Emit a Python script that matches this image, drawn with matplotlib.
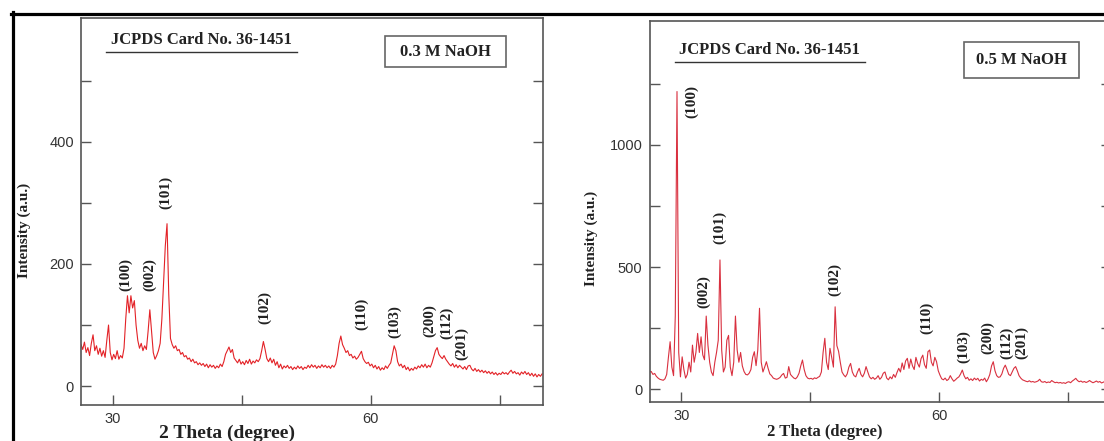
import numpy as np
import matplotlib
matplotlib.use("Agg")
import matplotlib.pyplot as plt
from matplotlib.lines import Line2D
from matplotlib.patches import Rectangle

theta_start = 26.3
theta_step = 0.2

int_03M = [
    68, 60, 72, 55, 63, 50, 70, 84, 58, 66, 52, 62, 49, 58, 47, 75, 100, 55, 43, 52,
    45, 58, 44, 50, 46, 62, 110, 148, 120, 148, 128, 140, 100, 75, 62, 70, 58, 66, 60, 90,
    125, 90, 55, 44, 50, 58, 70, 110, 170, 230, 266, 150, 78, 68, 62, 66, 58, 60, 52, 55,
    48, 50, 44, 46, 40, 44, 38, 40, 35, 38, 34, 37, 32, 36, 30, 35, 31, 34, 29, 33,
    30, 36, 32, 40, 52, 58, 64, 55, 60, 46, 42, 38, 44, 36, 40, 35, 42, 37, 44, 36,
    41, 38, 43, 40, 45, 58, 73, 60, 45, 40, 46, 38, 44, 34, 40, 30, 36, 28, 33, 30,
    34, 29, 32, 27, 31, 28, 33, 29, 32, 27, 31, 29, 34, 30, 35, 31, 34, 29, 33, 30,
    35, 31, 34, 30, 33, 29, 34, 31, 36, 50, 70, 82, 68, 62, 55, 58, 50, 52, 46, 49,
    44, 47, 52, 57, 45, 40, 37, 39, 33, 36, 30, 34, 28, 32, 26, 30, 27, 33, 29, 34,
    38, 52, 66, 58, 40, 33, 36, 30, 34, 27, 31, 25, 29, 26, 31, 28, 33, 30, 35, 31,
    36, 30, 34, 31, 38, 48, 58, 63, 52, 48, 45, 50, 44, 40, 36, 33, 37, 31, 35, 30,
    34, 31, 28, 32, 27, 33, 34, 28, 25, 29, 24, 27, 23, 26, 22, 25, 21, 24, 20, 23,
    19, 22, 18, 21, 19, 23, 20, 22, 19, 23, 26, 21, 24, 20, 22, 18, 23, 20, 24, 19,
    22, 17, 21, 16, 20, 15, 19, 16, 20,
]

int_05M = [
    70, 72, 60, 64, 52, 45, 40, 38, 36, 42, 60, 130, 194, 90, 55, 300, 1219, 150, 50, 132,
    80, 45, 60, 110, 70, 180, 110, 150, 228, 150, 214, 140, 120, 299, 180, 110, 70, 55, 110, 150,
    200, 529, 160, 70, 90, 200, 220, 90, 55, 110, 299, 160, 110, 150, 95, 72, 60, 58, 65, 80,
    130, 153, 96, 160, 331, 110, 70, 90, 112, 85, 62, 55, 45, 42, 40, 43, 48, 58, 64, 45,
    48, 92, 60, 52, 45, 42, 50, 65, 95, 119, 80, 55, 45, 42, 44, 40, 46, 43, 48, 52,
    70, 150, 208, 110, 80, 167, 130, 90, 337, 178, 155, 110, 70, 58, 50, 62, 90, 105, 70, 55,
    50, 70, 85, 60, 50, 65, 92, 70, 50, 42, 48, 40, 45, 55, 40, 48, 65, 70, 45, 38,
    50, 42, 60, 48, 68, 85, 70, 107, 80, 115, 126, 85, 123, 95, 80, 130, 105, 90, 125, 139,
    100, 85, 153, 160, 110, 95, 130, 112, 75, 57, 42, 38, 45, 35, 40, 55, 42, 32, 38, 45,
    50, 62, 78, 55, 42, 48, 36, 42, 35, 45, 38, 44, 33, 40, 36, 45, 30, 42, 60, 95,
    112, 75, 55, 48, 50, 62, 85, 98, 80, 60, 55, 70, 85, 92, 75, 55, 45, 38, 35, 32,
    30, 34, 29, 31, 28, 30, 33, 40, 30, 28, 31, 26, 29, 27, 35, 30, 26, 28, 25, 27,
    24, 26, 23, 28, 30, 26, 33, 38, 44, 35, 30, 33, 28, 31, 27, 30, 35, 30, 26, 29,
    33, 28, 31, 25, 28, 32, 27, 30, 28,
]

hkl = ["(100)", "(002)", "(101)", "(102)", "(110)", "(103)", "(200)", "(112)", "(201)"]
# label centres (2theta, intensity) for each panel
hkl_pos_03M = [(31.5, 182), (34.3, 182), (36.1, 318), (47.6, 128), (58.9, 119),
               (62.8, 105), (66.8, 108), (68.8, 103), (70.5, 70)]
hkl_pos_05M = [(31.25, 1180), (32.6, 398), (34.5, 664), (47.9, 450), (58.6, 290),
               (62.8, 176), (65.7, 209), (67.9, 189), (69.6, 189)]

W, H = 1104, 441
fig = plt.figure(figsize=(W / 100, H / 100), dpi=100)

serif = "Liberation Serif"
sans = "Liberation Sans"
spine_col = "#555555"


def panel(rect, y, color, ylim, yticks, yminor, pos, tag, box, xlab, ylab):
    ax = fig.add_axes(rect)
    x = theta_start + theta_step * np.arange(len(y))
    ax.plot(x, y, color=color, lw=0.8)
    ax.set_xlim(26.3, 80)
    ax.set_ylim(*ylim)
    ax.set_xticks([30, 60])
    ax.set_xticks([45, 75], minor=True)
    ax.set_yticks(yticks)
    ax.set_yticks(yminor, minor=True)
    ax.tick_params(which="both", direction="in", right=True, top=False,
                   color=spine_col, width=1.0, labelsize=10.5, labelcolor="#333333")
    ax.tick_params(which="major", length=7, pad=5)
    ax.tick_params(which="minor", length=7)
    for lab in ax.get_xticklabels() + ax.get_yticklabels():
        lab.set_fontfamily(sans)
    for s in ax.spines.values():
        s.set_color(spine_col)
        s.set_linewidth(1.2)

    for t, (px, py) in zip(hkl, pos):
        ax.text(px, py, t, rotation=90, ha="center", va="center",
                fontsize=11, fontweight="bold", family=serif, color="#222222")

    # card number, underlined
    ax.text(0.26, tag, "JCPDS Card No. 36-1451", transform=ax.transAxes,
            ha="center", va="center", fontsize=12, fontweight="bold", family=serif,
            color="#222222")
    ax.plot([0.055, 0.468], [tag - 0.031, tag - 0.031], transform=ax.transAxes,
            color="#333333", lw=1.0, clip_on=False)

    bx0, by0, bx1, by1, label = box
    ax.add_patch(Rectangle((bx0, by0), bx1 - bx0, by1 - by0, transform=ax.transAxes,
                           fill=False, edgecolor="#666666", lw=1.2))
    ax.text((bx0 + bx1) / 2, (by0 + by1) / 2, label, transform=ax.transAxes,
            ha="center", va="center", fontsize=12, fontweight="bold", family=serif,
            color="#222222")

    xl_x, xl_y, xl_size = xlab
    ax.text(xl_x, xl_y, "2 Theta (degree)", transform=ax.transAxes,
            ha="center", va="center", fontsize=xl_size, fontweight="bold", family=serif,
            color="#222222")
    yl_x, yl_y = ylab
    ax.text(yl_x, yl_y, "Intensity (a.u.)", transform=ax.transAxes, rotation=90,
            ha="center", va="center", fontsize=11, fontweight="bold", family=serif,
            color="#222222")
    return ax


panel([81 / W, 1 - 405 / H, 462 / W, 387 / H], int_03M, "#e32227", (-31, 603),
      [0, 200, 400], [100, 300, 500], hkl_pos_03M, 0.943,
      (0.658, 0.873, 0.92, 0.953, "0.3 M NaOH"), (0.316, -0.072, 14), (-0.122, 0.45))

panel([649.5 / W, 1 - 402 / H, 461.5 / W, 381 / H], int_05M, "#d9303f", (-53, 1508),
      [0, 500, 1000], [250, 750, 1250], hkl_pos_05M, 0.924,
      (0.681, 0.850, 0.931, 0.945, "0.5 M NaOH"), (0.38, -0.078, 12), (-0.127, 0.43))

# black frame round the composite
fig.add_artist(Line2D([11 / W, 1], [1 - 13.5 / H, 1 - 13.5 / H], color="black",
                      lw=2.3, transform=fig.transFigure))
fig.add_artist(Line2D([13 / W, 13 / W], [0, 1 - 12 / H], color="black",
                      lw=2.3, transform=fig.transFigure))

fig.savefig("out.png", dpi=100)
